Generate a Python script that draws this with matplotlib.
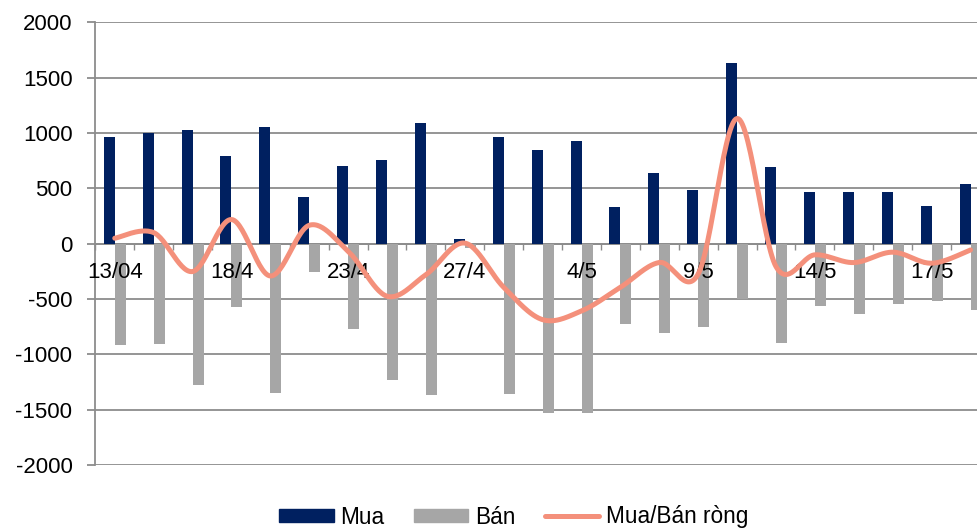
import matplotlib
matplotlib.use("Agg")
import matplotlib.pyplot as plt
import numpy as np
from matplotlib.patches import Patch
from matplotlib.lines import Line2D

plt.rcParams['font.family'] = ['Liberation Sans', 'DejaVu Sans']

dates = ["13/04", "", "", "18/4", "", "", "23/4", "", "", "27/4", "", "",
         "4/5", "", "", "9/5", "", "", "14/5", "", "", "17/5", ""]
mua = [965, 1004, 1028, 793, 1055, 419, 705, 757, 1091, 45, 967, 844,
       926, 335, 637, 483, 1631, 693, 465, 467, 465, 338, 540]
ban = [-916, -904, -1280, -575, -1347, -253, -774, -1232, -1371, -40, -1362, -1531,
       -1534, -729, -807, -756, -500, -901, -566, -638, -542, -515, -597]
net = [49, 100, -252, 218, -292, 166, -69, -475, -280, 5, -395, -687,
       -608, -394, -170, -273, 1131, -208, -101, -171, -77, -177, -57]
yticks = [-2000, -1500, -1000, -500, 0, 500, 1000, 1500, 2000]

C_MUA = '#002060'
C_BAN = '#A6A6A6'
C_NET = '#F4907B'
C_GRID = '#8C8C8C'

W, H = 978, 528
fig = plt.figure(figsize=(W / 100, H / 100), dpi=100)
left = 95.3 / W
width = 23 * 38.9 / W
bottom = 1 - 465 / H
top = 1 - 22.3 / H
ax = fig.add_axes([left, bottom, width, top - bottom])

n = len(mua)
x = np.arange(n)
bw = 0.283
ax.bar(x - bw / 2, mua, bw, color=C_MUA, zorder=2)
ax.bar(x + bw / 2, ban, bw, color=C_BAN, zorder=2)

# Smoothed line (Excel-like Bezier smoothing) through the net points
px = x.astype(float)
py = np.array(net, dtype=float)
xs, ys = [], []
for i in range(n - 1):
    p0 = np.array([px[max(i - 1, 0)], py[max(i - 1, 0)]])
    p1 = np.array([px[i], py[i]])
    p2 = np.array([px[i + 1], py[i + 1]])
    p3 = np.array([px[min(i + 2, n - 1)], py[min(i + 2, n - 1)]])
    c1 = p1 + (p2 - p0) / 6
    c2 = p2 - (p3 - p1) / 6
    t = np.linspace(0, 1, 30)[:, None]
    b = (1 - t) ** 3 * p1 + 3 * (1 - t) ** 2 * t * c1 + 3 * (1 - t) * t ** 2 * c2 + t ** 3 * p2
    xs.extend(b[:, 0]); ys.extend(b[:, 1])
ax.plot(xs, ys, color=C_NET, lw=3.6, solid_capstyle='round', zorder=3)

ax.set_xlim(-0.5, n - 0.5)
ax.set_ylim(-2000, 2000)
ax.set_yticks(yticks)
ax.set_yticklabels([str(v) for v in yticks])
for v in yticks:
    ax.axhline(v, color=C_GRID, lw=1.3, zorder=0.5)
ax.set_axisbelow(False)

for s in ['top', 'right']:
    ax.spines[s].set_visible(False)
ax.spines['left'].set_color(C_GRID)
ax.spines['left'].set_linewidth(1.3)
ax.spines['left'].set_zorder(0.6)
ax.spines['bottom'].set_position(('data', 0))
ax.spines['bottom'].set_color(C_GRID)
ax.spines['bottom'].set_linewidth(1.3)
ax.spines['bottom'].set_zorder(0.6)

ax.tick_params(axis='y', length=5.5, width=1.3, color=C_GRID, pad=11, labelsize=16)
ax.set_xticks(np.arange(-0.5, n, 1.0))
ax.set_xticklabels([])
ax.tick_params(axis='x', which='major', length=4.5, width=1.0, color=C_GRID, direction='out')
ax.set_xticks(x, minor=True)
ax.set_xticklabels(dates, minor=True)
ax.tick_params(axis='x', which='minor', length=0, pad=13, labelsize=16)

handles = [Patch(color=C_MUA), Patch(color=C_BAN), Line2D([], [], color=C_NET, lw=3.6, solid_capstyle='round')]
fig.legend(handles, ["Mua", "Bán", "Mua/Bán ròng"], loc='center', ncol=3, frameon=False,
           bbox_to_anchor=(514 / W, 1 - 517 / H), fontsize=16.3, handlelength=2.4, handleheight=0.55,
           handletextpad=0.3, columnspacing=1.3)

fig.savefig("out.png", dpi=100)
